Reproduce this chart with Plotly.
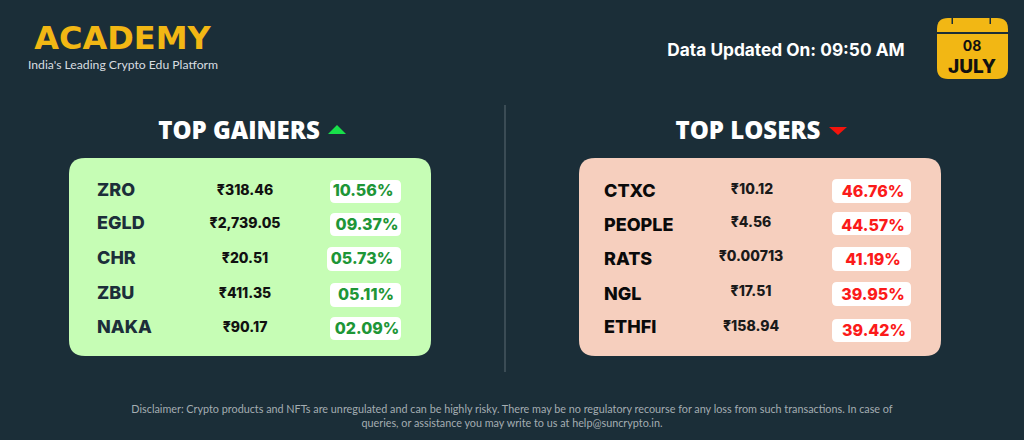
import plotly.graph_objects as go

# table contents
gainer_names = ["ZRO", "EGLD", "CHR", "ZBU", "NAKA"]
gainer_prices = ["₹318.46", "₹2,739.05", "₹20.51", "₹411.35", "₹90.17"]
gainer_changes = ["10.56%", "09.37%", "05.73%", "05.11%", "02.09%"]
loser_names = ["CTXC", "PEOPLE", "RATS", "NGL", "ETHFI"]
loser_prices = ["₹10.12", "₹4.56", "₹0.00713", "₹17.51", "₹158.94"]
loser_changes = ["46.76%", "44.57%", "41.19%", "39.95%", "39.42%"]

disclaimer = [
    "Disclaimer: Crypto products and NFTs are unregulated and can be highly risky. There may be no regulatory recourse for any loss from such transactions. In case of",
    "queries, or assistance you may write to us at help@suncrypto.in.",
]

BG = "#1b2e38"
YELLOW = "#f2b714"
BODY_FONT = "Inter"
TITLE_FONT = "Open Sans"


def rounded(x0, y0, x1, y1, r):
    return (
        f"M{x0 + r},{y0} L{x1 - r},{y0} Q{x1},{y0} {x1},{y0 + r} L{x1},{y1 - r} Q{x1},{y1} {x1 - r},{y1} "
        f"L{x0 + r},{y1} Q{x0},{y1} {x0},{y1 - r} L{x0},{y0 + r} Q{x0},{y0} {x0 + r},{y0} Z"
    )


def box(x0, y0, x1, y1, r, color):
    return dict(type="path", path=rounded(x0, y0, x1, y1, r), fillcolor=color, line_width=0, layer="below")


def label(xs, ys, texts, size, color, family=BODY_FONT, weight=700, position="middle center"):
    return go.Scatter(
        x=xs, y=ys, text=texts, mode="text", textposition=position, hoverinfo="skip",
        textfont=dict(size=size, color=color, family=family, weight=weight),
    )


shapes = [
    box(69, 158, 431, 356, 16, "#c6fdb5"),
    box(579, 158, 941, 356, 16, "#f6cfbe"),
    # calendar
    box(937, 18, 1008, 79, 11, YELLOW),
    dict(type="rect", x0=937, x1=1008, y0=32, y1=34, fillcolor=BG, line_width=0),
    dict(type="rect", x0=951.5, x1=953, y0=18, y1=24, fillcolor=BG, line_width=0),
    dict(type="rect", x0=989.5, x1=991, y0=18, y1=24, fillcolor=BG, line_width=0),
    # divider
    dict(type="line", x0=505, x1=505, y0=105, y1=372, line=dict(color="#5d6b72", width=1)),
    # arrows
    dict(type="path", path="M328,134 L346,134 L337,125 Z", fillcolor="#18e04a", line_width=0),
    dict(type="path", path="M829,127 L847,127 L838,135 Z", fillcolor="#f4140c", line_width=0),
]

# white pills behind the percentages
gainer_pills = [(330, 180, 401, 203), (330, 213, 401, 236), (327, 247, 401, 271), (330, 283, 401, 307), (330, 317, 401, 340)]
loser_pills = [(832, 179, 911, 203), (832, 212, 911, 235), (832, 247, 911, 271), (832, 282, 911, 306), (832, 319, 911, 342)]
for x0, y0, x1, y1 in gainer_pills + loser_pills:
    shapes.append(box(x0, y0, x1, y1, 5, "white"))

fig = go.Figure()

fig.add_trace(label([97] * 5, [191, 224, 259, 294, 328], gainer_names, 18, "#1c2e3a", weight=800, position="middle right"))
fig.add_trace(label([245] * 5, [191, 224, 259, 294, 328], gainer_prices, 14, "#111111", weight=800))
fig.add_trace(label([363, 367, 362, 366, 367], [192, 226, 260, 296, 330], gainer_changes, 16, "#1e9637", weight=800))

fig.add_trace(label([604] * 5, [192, 226, 260, 295, 328], loser_names, 18, "#0a0a0a", weight=800, position="middle right"))
fig.add_trace(label([752, 751, 751, 751, 751], [190, 223, 257, 292, 327], loser_prices, 14, "#1a1a1a", weight=800))
fig.add_trace(label([873, 873, 873, 873, 874], [193, 227, 261, 296, 332], loser_changes, 16, "#fb1a1a", weight=800))

fig.add_trace(label([239], [133], ["TOP GAINERS"], 24, "white", family=TITLE_FONT, weight=800))
fig.add_trace(label([748], [133], ["TOP LOSERS"], 24, "white", family=TITLE_FONT, weight=800))

fig.add_trace(label([122.5], [41], ["ACADEMY"], 32, YELLOW, family="DejaVu Sans"))
fig.add_trace(label([123], [66], ["India's Leading Crypto Edu Platform"], 12.2, "#d8dde0", family="Lato", weight=400))
fig.add_trace(label([786], [52], ["Data Updated On: 09:50 AM"], 17.3, "white"))
fig.add_trace(label([972], [47.5], ["08"], 14, "#111111"))
fig.add_trace(label([972], [68], ["JULY"], 19, "#111111", weight=800))
fig.add_trace(label([512, 512], [410, 424], disclaimer, 10.8, "#a4adb2", family="Lato", weight=400))

fig.update_layout(
    width=1024,
    height=440,
    autosize=False,
    showlegend=False,
    margin=dict(l=0, r=0, t=0, b=0),
    paper_bgcolor=BG,
    plot_bgcolor=BG,
    shapes=shapes,
    xaxis=dict(range=[0, 1024], visible=False, fixedrange=True),
    yaxis=dict(range=[440, 0], visible=False, fixedrange=True),
)

fig.write_html(
    "out.html",
    config=dict(displayModeBar=False),
    post_script="document.body.style.margin='0';document.body.style.background='" + BG + "';",
)
